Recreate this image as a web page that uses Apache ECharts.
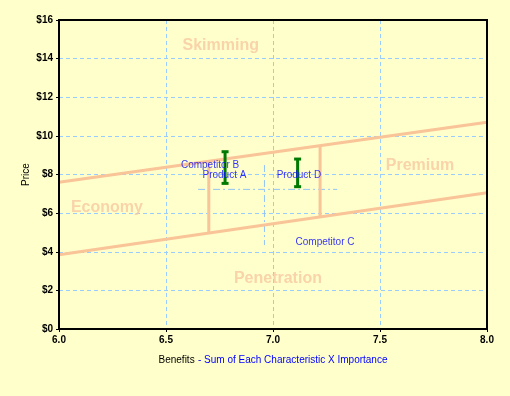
<!DOCTYPE html>
<html><head><meta charset="utf-8">
<script src="https://cdn.jsdelivr.net/npm/echarts@6/dist/echarts.min.js"></script>
<style>html,body{margin:0;padding:0;background:#ffffcc}#c{width:510px;height:396px}</style>
</head><body><div id="c"></div>
<script>
// Boundary lines (benefit, price)
const upperLine = [[6.0, 7.6], [8.0, 10.7]];
const lowerLine = [[6.0, 3.85], [8.0, 7.05]];
const segmentA = [[6.70, 4.97], [6.70, 8.68]];
const segmentB = [[7.22, 5.80], [7.22, 9.49]];
// Dash-dot reference lines
const hRefLine = [[6.65, 7.23], [7.30, 7.23]];
const vRefLine = [[6.96, 8.49], [6.96, 4.35]];
// Error bars: [benefit, low price, high price]
const errorBars = [[6.776, 7.54, 9.18], [7.115, 7.37, 8.80]];
// Product labels: [benefit, price, name]
const productLabels = [
  [6.706, 8.49, 'Competitor B'],
  [6.773, 7.97, 'Product A'],
  [7.121, 7.97, 'Product D'],
  [7.243, 4.51, 'Competitor C']
];
// Region labels
const regionLabels = [
  [6.756, 14.66, 'Skimming'],
  [7.687, 8.44, 'Premium'],
  [6.224, 6.27, 'Economy'],
  [7.023, 2.59, 'Penetration']
];
const xTicks = [6.0, 6.5, 7.0, 7.5, 8.0];
const yTicks = [0, 2, 4, 6, 8, 10, 12, 14, 16];

const FONT = 'Liberation Sans, Arial, sans-serif';
const ORANGE = '#f9c497';
const lineStyle = {color: ORANGE, width: 3};
function seg(data) {
  return {type: 'line', data: data, symbol: 'none', lineStyle: lineStyle, silent: true, z: 3};
}
function refSeg(data) {
  return {type: 'line', data: data, symbol: 'none', silent: true, z: 2,
    lineStyle: {color: '#8fc4f5', width: 1, type: [7, 3, 2, 3]}};
}

const chart = echarts.init(document.getElementById('c'));
chart.setOption({
  backgroundColor: '#ffffcc',
  animation: false,
  grid: {left: 59, right: 23, top: 20, bottom: 67, show: true, borderColor: '#000', borderWidth: 2, backgroundColor: 'transparent', z: 10},
  xAxis: {
    type: 'value', min: 6, max: 8, interval: 0.5,
    axisLine: {show: true, onZero: false, lineStyle: {color: '#000', width: 2}},
    axisTick: {show: true, length: 3, lineStyle: {color: '#000'}},
    axisLabel: {color: '#000', fontFamily: FONT, fontSize: 10, fontWeight: 'bold', margin: 6,
      formatter: v => xTicks.includes(v) ? v.toFixed(1) : ''},
    splitLine: {show: true, showMinLine: false, showMaxLine: false, lineStyle: {color: '#99ccff', type: [4, 3], width: 1}},
    name: '{a|Benefits} {b|- Sum of Each Characteristic X Importance}',
    nameLocation: 'middle', nameGap: 25, nameMoveOverlap: false,
    nameTextStyle: {rich: {
      a: {color: '#000', fontFamily: FONT, fontSize: 10},
      b: {color: '#0000ff', fontFamily: FONT, fontSize: 10}
    }}
  },
  yAxis: {
    type: 'value', min: 0, max: 16, interval: 2,
    axisLine: {show: true, onZero: false, lineStyle: {color: '#000', width: 2}},
    axisTick: {show: true, length: 3, lineStyle: {color: '#000'}},
    axisLabel: {color: '#000', fontFamily: FONT, fontSize: 10, fontWeight: 'bold', margin: 6,
      formatter: v => yTicks.includes(v) ? '$' + v : ''},
    splitLine: {show: true, showMinLine: false, showMaxLine: false, lineStyle: {color: '#99ccff', type: [4, 3], width: 1}},
    name: 'Price', nameLocation: 'middle', nameGap: 28, nameMoveOverlap: false,
    nameTextStyle: {color: '#000', fontFamily: FONT, fontSize: 10}
  },
  series: [
    refSeg(hRefLine), refSeg(vRefLine),
    seg(upperLine), seg(lowerLine), seg(segmentA), seg(segmentB),
    {
      type: 'custom', z: 5, silent: true,
      data: errorBars,
      renderItem: function (params, api) {
        const x = api.value(0);
        const lo = api.coord([x, api.value(1)]);
        const hi = api.coord([x, api.value(2)]);
        const hw = 3.5;
        const st = {stroke: '#007a00', lineWidth: 3};
        return {type: 'group', children: [
          {type: 'line', shape: {x1: lo[0], y1: lo[1], x2: hi[0], y2: hi[1]}, style: st},
          {type: 'line', shape: {x1: lo[0] - hw, y1: lo[1], x2: lo[0] + hw, y2: lo[1]}, style: st},
          {type: 'line', shape: {x1: hi[0] - hw, y1: hi[1], x2: hi[0] + hw, y2: hi[1]}, style: st}
        ]};
      }
    },
    {
      type: 'scatter', symbolSize: 0, z: 6, silent: true,
      data: productLabels.map(d => ({value: [d[0], d[1]], name: d[2]})),
      label: {show: true, position: 'inside', formatter: p => p.name,
        color: '#0000ff', fontFamily: FONT, fontSize: 10}
    },
    {
      type: 'scatter', symbolSize: 0, z: 1, silent: true,
      data: regionLabels.map(d => ({value: [d[0], d[1]], name: d[2]})),
      label: {show: true, position: 'inside', formatter: p => p.name,
        color: '#f8c8a0', fontFamily: FONT, fontSize: 16, fontWeight: 'bold'}
    }
  ]
});
</script></body></html>
